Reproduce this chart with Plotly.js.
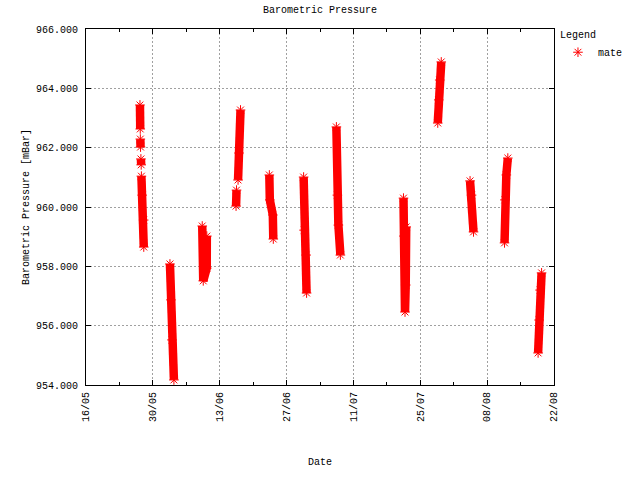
<!DOCTYPE html>
<html>
<head>
<meta charset="utf-8">
<script src="https://cdn.plot.ly/plotly-3.0.1.min.js"></script>
<style>html,body{margin:0;padding:0;background:#fff}</style>
</head>
<body>
<div id="chart" style="width:640px;height:480px"></div>
<script>
// Readings (null entries mark breaks between recording runs)
const readingTimes = [
  '2008-05-27 07:12','2008-05-27 08:38',null,
  '2008-05-27 09:07','2008-05-27 10:05',null,
  '2008-05-27 12:00','2008-05-27 13:26',null,
  '2008-05-27 14:24','2008-05-27 18:14','2008-05-28 01:41','2008-05-28 02:24',null,
  '2008-06-02 13:55','2008-06-02 18:58','2008-06-03 00:00','2008-06-03 09:50',null,
  '2008-06-09 08:10','2008-06-09 13:12','2008-06-10 06:43','2008-06-10 07:12',null,
  '2008-06-16 10:05','2008-06-16 12:29',null,
  '2008-06-16 20:10','2008-06-17 00:58','2008-06-17 08:38',null,
  '2008-06-23 09:22','2008-06-23 11:46','2008-06-24 02:53','2008-06-24 05:17',null,
  '2008-06-30 13:41','2008-06-30 16:05','2008-07-01 02:10','2008-07-01 04:34',null,
  '2008-07-07 10:19','2008-07-07 15:22','2008-07-07 20:24','2008-07-08 06:29',null,
  '2008-07-21 11:31','2008-07-21 13:55','2008-07-21 19:12','2008-07-21 22:48','2008-07-22 01:12',null,
  '2008-07-28 15:50','2008-07-28 20:53','2008-07-29 01:41','2008-07-29 09:22',null,
  '2008-08-04 10:05','2008-08-04 17:31','2008-08-05 03:36',null,
  '2008-08-11 15:22','2008-08-11 17:17','2008-08-12 00:29','2008-08-12 07:55',null,
  '2008-08-18 16:05','2008-08-18 21:07','2008-08-19 02:10','2008-08-19 09:36'
];
const pressureMbar = [
  963.44,962.63,null,
  962.29,962.02,null,
  961.62,961.42,null,
  961.04,960.40,959.56,958.65,null,
  958.08,956.87,955.52,954.17,null,
  959.36,957.51,957.94,959.02,null,
  960.03,960.57,null,
  960.91,961.82,963.27,null,
  961.08,960.24,959.73,958.92,null,
  961.01,959.22,958.38,957.10,null,
  962.70,960.40,959.39,958.38,null,
  960.30,959.02,956.46,957.37,959.33,null,
  962.83,963.61,964.28,964.89,null,
  960.88,960.40,959.16,null,
  958.79,960.24,961.08,961.65,null,
  955.08,956.19,957.20,957.78
];
const seriesName = 'mate';
const xRange = ['2008-05-16', '2008-08-22'];
const yRange = [954, 966];

const DAY = 86400000;
const red = '#ff0000';
const fontFam = 'Liberation Mono, DejaVu Sans Mono, monospace';

const traces = [
  {
    x: readingTimes, y: pressureMbar, type: 'scatter', mode: 'lines',
    line: {color: red, width: 8.5}, connectgaps: false,
    showlegend: false, hoverinfo: 'skip'
  },
  {
    x: readingTimes, y: pressureMbar, type: 'scatter', mode: 'markers',
    name: seriesName,
    marker: {symbol: 'asterisk-open', size: 8, color: red, line: {color: red, width: 1}}
  }
];

const axisCommon = {
  showline: true, linecolor: '#000', linewidth: 1, mirror: 'allticks',
  ticks: 'inside', ticklen: 5, tickcolor: '#000', tickwidth: 1,
  showgrid: true, gridcolor: '#a0a0a0', griddash: '2px,2px', gridwidth: 1,
  zeroline: false, automargin: false,
  tickfont: {family: fontFam, size: 10, color: '#000'}
};

const layout = {
  width: 640, height: 480,
  margin: {l: 86, r: 83, t: 29, b: 95, pad: 0},
  paper_bgcolor: '#ffffff', plot_bgcolor: '#ffffff',
  font: {family: fontFam, size: 10, color: '#000'},
  title: {text: 'Barometric Pressure', x: 0.5, xref: 'container', xanchor: 'center',
          y: 1 - 9/480, yref: 'container', yanchor: 'middle',
          font: {family: fontFam, size: 10, color: '#000'}},
  xaxis: Object.assign({}, axisCommon, {
    type: 'date', range: xRange,
    tickmode: 'linear', tick0: xRange[0], dtick: 14 * DAY,
    tickformat: '%d/%m', tickangle: -90, ticklabelstandoff: 2,
    minor: {tick0: xRange[0], dtick: 7 * DAY, ticks: 'inside', ticklen: 3, tickcolor: '#000', showgrid: false},
    title: {text: 'Date', standoff: 36, font: {family: fontFam, size: 10, color: '#000'}}
  }),
  yaxis: Object.assign({}, axisCommon, {
    range: yRange, tickmode: 'linear', tick0: 954, dtick: 2,
    tickformat: '.3f', ticklabelstandoff: 5,
    title: {text: 'Barometric Pressure [mBar]', standoff: 4, font: {family: fontFam, size: 10, color: '#000'}}
  }),
  showlegend: true,
  legend: {
    x: (561 - 86) / 471, xanchor: 'left', y: 1.012, yanchor: 'top',
    bgcolor: 'rgba(0,0,0,0)', borderwidth: 0,
    title: {text: 'Legend', font: {family: fontFam, size: 10, color: '#000'}},
    font: {family: fontFam, size: 10, color: '#000'}
  }
};

Plotly.newPlot('chart', traces, layout, {displayModeBar: false, staticPlot: true});
</script>
</body>
</html>
